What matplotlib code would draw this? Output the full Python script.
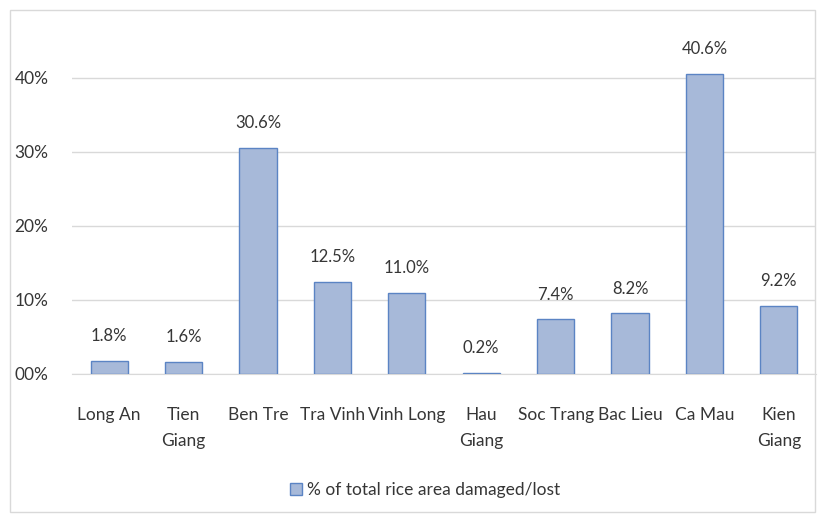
import matplotlib.pyplot as plt
import numpy as np

provinces = ["Long An", "Tien\nGiang", "Ben Tre", "Tra Vinh", "Vinh Long",
             "Hau\nGiang", "Soc Trang", "Bac Lieu", "Ca Mau", "Kien\nGiang"]
damaged_pct = [1.8, 1.6, 30.6, 12.5, 11.0, 0.2, 7.4, 8.2, 40.6, 9.2]
y_ticks = [0, 10, 20, 30, 40]
y_tick_labels = ["00%", "10%", "20%", "30%", "40%"]
series_name = "% of total rice area damaged/lost"

plt.rcParams['font.family'] = ['Lato', 'DejaVu Sans']
txt = '#363636'

fig = plt.figure(figsize=(8.25, 5.22), dpi=100)
ax = fig.add_axes([72 / 825, 1 - 374 / 522, 744 / 825, 333 / 522])

# outer chart border
fig.patches.append(plt.Rectangle((10 / 825, 10 / 522), 805 / 825, 502 / 522,
                                 transform=fig.transFigure, fill=False,
                                 edgecolor='#d9d9d9', linewidth=1))

x = np.arange(len(provinces))
bars = ax.bar(x, damaged_pct, 0.5, color='#a7b9d9', edgecolor='#5b84c4',
              linewidth=1, label=series_name, zorder=3)
ax.bar_label(bars, labels=[f"{v:.1f}%" for v in damaged_pct], padding=12,
             fontsize=12, color=txt)

ax.set_xlim(-0.5, len(provinces) - 0.5)
ax.set_ylim(0, 45)
ax.set_yticks(y_ticks)
ax.set_yticklabels(y_tick_labels)
ax.set_xticks(x)
ax.set_xticklabels(provinces, fontsize=12.5, color=txt, linespacing=1.75)
ax.tick_params(axis='y', labelsize=12.5, labelcolor=txt, length=0, pad=17)
ax.tick_params(axis='x', length=0, pad=24)
ax.grid(axis='y', color='#d9d9d9', linewidth=1, zorder=0)
for s in ['top', 'right', 'left']:
    ax.spines[s].set_visible(False)
ax.spines['bottom'].set_color('#d9d9d9')

fig.legend(loc='center', bbox_to_anchor=(425 / 825, 1 - 490 / 522), frameon=False,
           fontsize=12.5, handlelength=0.7, handleheight=0.7, handletextpad=0.3,
           labelcolor=txt)

fig.savefig("out.png", dpi=100)
